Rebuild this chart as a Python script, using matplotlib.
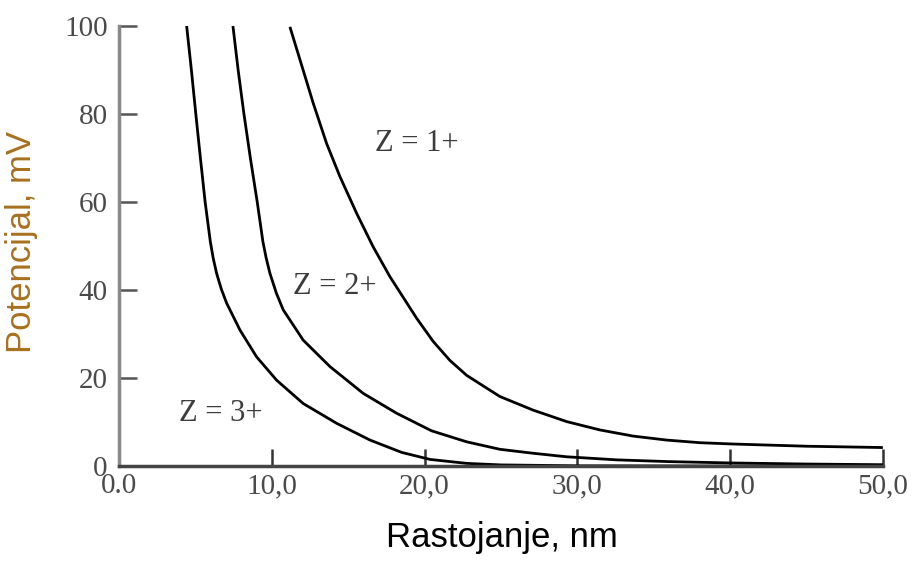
import matplotlib.pyplot as plt
from matplotlib.ticker import FixedLocator, FixedFormatter

# distance (nm) vs potential (mV) for three ion charges
x_z1 = [11.19, 11.85, 12.72, 13.59, 14.46, 15.56, 16.64, 17.74, 18.61, 19.48, 20.57,
        21.66, 22.76, 24.93, 27.11, 29.30, 31.48, 33.66, 35.84, 38.02, 40.2, 45.0, 50.0]
y_z1 = [99.8, 92.3, 82.4, 73.3, 65.8, 57.4, 49.8, 43.0, 38.3, 33.6, 28.3,
        24.0, 20.6, 15.8, 12.7, 10.1, 8.2, 6.8, 5.9, 5.3, 5.0, 4.5, 4.2]

x_z2 = [7.46, 7.80, 8.18, 8.60, 9.05, 9.42, 9.64, 9.88, 10.30, 10.75, 12.06, 13.81,
        15.99, 18.17, 20.46, 22.76, 24.93, 27.11, 29.30, 32.57, 36.0, 40.0, 45.0, 50.0]
y_z2 = [100, 90, 80, 70, 60, 51, 47.2, 43.8, 39.3, 35.5, 28.6, 22.6,
        16.5, 12.0, 8.0, 5.5, 3.8, 2.9, 2.1, 1.4, 1.0, 0.7, 0.45, 0.3]

x_z3 = [4.43, 4.74, 5.03, 5.33, 5.64, 5.98, 6.17, 6.39, 6.70, 7.05, 7.92, 9.01,
        10.32, 12.06, 14.25, 16.43, 18.5, 20.36, 22.76, 25.0, 30.0, 40.0, 50.0]
y_z3 = [100, 90, 80, 70, 60, 51, 47.2, 43.8, 40.2, 37.0, 30.9, 24.8,
        19.5, 14.2, 9.7, 5.9, 3.1, 1.5, 0.6, 0.25, 0.05, 0.0, 0.0]

labels = ['Z = 1+', 'Z = 2+', 'Z = 3+']
label_pos = [(16.75, 73.2), (11.4, 40.7), (3.9, 12.0)]

xticks = [0, 10, 20, 30, 40, 50]
xtick_labels = ['0.0', '10,0', '20,0', '30,0', '40,0', '50,0']
yticks = [0, 20, 40, 60, 80, 100]

fig = plt.figure(figsize=(9.13, 5.61), dpi=100)
ax = fig.add_axes([0.1303, 0.1693, 0.8367, 0.7844])

for xs, ys in [(x_z1, y_z1), (x_z2, y_z2), (x_z3, y_z3)]:
    ax.plot(xs, ys, color='black', lw=2.0, solid_capstyle='butt', solid_joinstyle='round')

serif = 'Liberation Serif'
for txt, (tx, ty) in zip(labels, label_pos):
    ax.text(tx, ty, txt, ha='left', va='center', fontsize=22, family=serif, color='#3c3c3c')

ax.set_xlim(0, 50)
ax.set_ylim(0, 100)

ax.xaxis.set_major_locator(FixedLocator(xticks))
ax.xaxis.set_major_formatter(FixedFormatter(xtick_labels))
ax.yaxis.set_major_locator(FixedLocator(yticks))

ax.spines['top'].set_visible(False)
ax.spines['right'].set_visible(False)
ax.spines['left'].set_color('#888888')
ax.spines['left'].set_linewidth(2.5)
ax.spines['bottom'].set_color('#444444')
ax.spines['bottom'].set_linewidth(2.5)

ax.tick_params(axis='x', direction='in', length=12.5, width=1.8, color='#333333',
               pad=5, labelsize=21, labelcolor='#4a4a4a')
ax.tick_params(axis='y', direction='in', length=13, width=1.8, color='#555555',
               pad=8, labelsize=21, labelcolor='#4a4a4a')
for lab in ax.get_xticklabels() + ax.get_yticklabels():
    lab.set_family(serif)

# axis titles placed in figure coordinates
fig.text(502 / 913, 1 - 538 / 561, 'Rastojanje, nm', fontsize=25, family='Liberation Sans',
         color='black', ha='center', va='center')
fig.text(22 / 913, 1 - 242 / 561, 'Potencijal, mV', fontsize=25, family='Liberation Sans',
         color='#a8701e', rotation=90, ha='center', va='center')

fig.savefig('out.png', dpi=100)
